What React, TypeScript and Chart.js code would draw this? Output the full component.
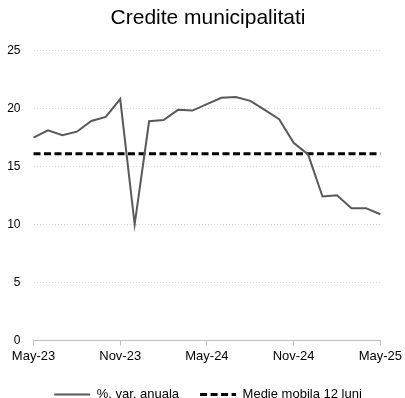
import React, { useEffect, useRef } from "react";
import { Chart, registerables } from "chart.js";

Chart.register(...registerables);

const months = [
  "May-23", "Jun-23", "Jul-23", "Aug-23", "Sep-23", "Oct-23", "Nov-23", "Dec-23",
  "Jan-24", "Feb-24", "Mar-24", "Apr-24", "May-24", "Jun-24", "Jul-24", "Aug-24",
  "Sep-24", "Oct-24", "Nov-24", "Dec-24", "Jan-25", "Feb-25", "Mar-25", "Apr-25", "May-25",
];

const annualChange = [
  17.46, 18.1, 17.67, 17.98, 18.9, 19.25, 20.79, 10.0, 18.88, 18.99, 19.86, 19.8,
  20.36, 20.9, 20.96, 20.64, 19.86, 19.05, 17.03, 16.02, 12.4, 12.51, 11.39, 11.39, 10.87,
];

const movingAverage = [
  16.08, 16.08, 16.08, 16.08, 16.08, 16.08, 16.08, 16.08, 16.08, 16.08, 16.08, 16.08, 16.08,
  16.08, 16.08, 16.08, 16.08, 16.08, 16.08, 16.08, 16.08, 16.08, 16.08, 16.08, 16.08,
];

const yTicks = [0, 5, 10, 15, 20, 25];

const FONT = "'Liberation Sans', Arial, sans-serif";

export default function App() {
  const canvasRef = useRef<HTMLCanvasElement | null>(null);

  useEffect(() => {
    document.body.style.margin = "0";
    const canvas = canvasRef.current;
    if (!canvas) return;
    const chart = new Chart(canvas, {
      type: "line",
      data: {
        labels: months,
        datasets: [
          {
            label: "%, var. anuala",
            data: annualChange,
            borderColor: "#595959",
            backgroundColor: "#595959",
            borderWidth: 2,
            borderDash: [],
            pointRadius: 0,
            tension: 0,
          },
          {
            label: "Medie mobila 12 luni",
            data: movingAverage,
            borderColor: "#000000",
            backgroundColor: "#000000",
            borderWidth: 3,
            borderDash: [7, 3.5],
            pointRadius: 0,
            tension: 0,
          },
        ],
      },
      options: {
        animation: false,
        responsive: false,
        maintainAspectRatio: false,
        layout: { padding: { left: 11, right: 0, top: 0, bottom: 0 } },
        plugins: {
          title: {
            display: true,
            text: "Credite municipalitati",
            color: "#000",
            font: { family: FONT, size: 21, weight: "normal" },
            padding: { top: 6, bottom: 19 },
          },
          legend: {
            position: "bottom",
            maxHeight: 31,
            labels: {
              usePointStyle: true,
              pointStyle: "line",
              pointStyleWidth: 36,
              boxHeight: 13,
              color: "#000",
              font: { family: FONT, size: 13 },
              padding: 21,
              generateLabels: (c: any) => {
                const items = Chart.defaults.plugins.legend.labels.generateLabels(c);
                return items.map((it: any, i: number) => {
                  const ds: any = c.data.datasets[i];
                  return {
                    ...it,
                    lineDash: ds.borderDash || [],
                    lineWidth: ds.borderWidth,
                    strokeStyle: ds.borderColor,
                    fillStyle: ds.borderColor,
                  };
                });
              },
            },
          },
          tooltip: { enabled: false },
        },
        scales: {
          x: {
            type: "category",
            offset: false,
            grid: {
              display: true,
              drawOnChartArea: false,
              drawTicks: true,
              tickLength: 5,
              color: (ctx: any) => (ctx.index % 6 === 0 ? "#bfbfbf" : "rgba(0,0,0,0)"),
            },
            border: { display: true, color: "#bfbfbf", width: 1 },
            ticks: {
              autoSkip: false,
              maxRotation: 0,
              color: "#000",
              font: { family: FONT, size: 13 },
              padding: 3,
              callback: (_v: any, i: number) => (i % 6 === 0 ? months[i] : ""),
            },
          },
          y: {
            min: 0,
            max: 25,
            afterBuildTicks: (axis: any) => {
              axis.ticks = yTicks.map((v) => ({ value: v }));
            },
            afterFit: (axis: any) => {
              axis.width = 22.5;
              axis._computeLabelArea = () => undefined;
            },
            grid: { color: "#d9d9d9", lineWidth: 1, drawTicks: false },
            border: { display: false, dash: [1, 2] },
            ticks: {
              color: "#000",
              font: { family: FONT, size: 12 },
              padding: 13,
            },
          },
        },
      },
    });
    return () => chart.destroy();
  }, []);

  return (
    <div style={{ position: "absolute", left: 0, top: 0, width: 405, height: 398 }}>
      <canvas ref={canvasRef} width={405} height={398} style={{ width: 405, height: 398 }} />
    </div>
  );
}
